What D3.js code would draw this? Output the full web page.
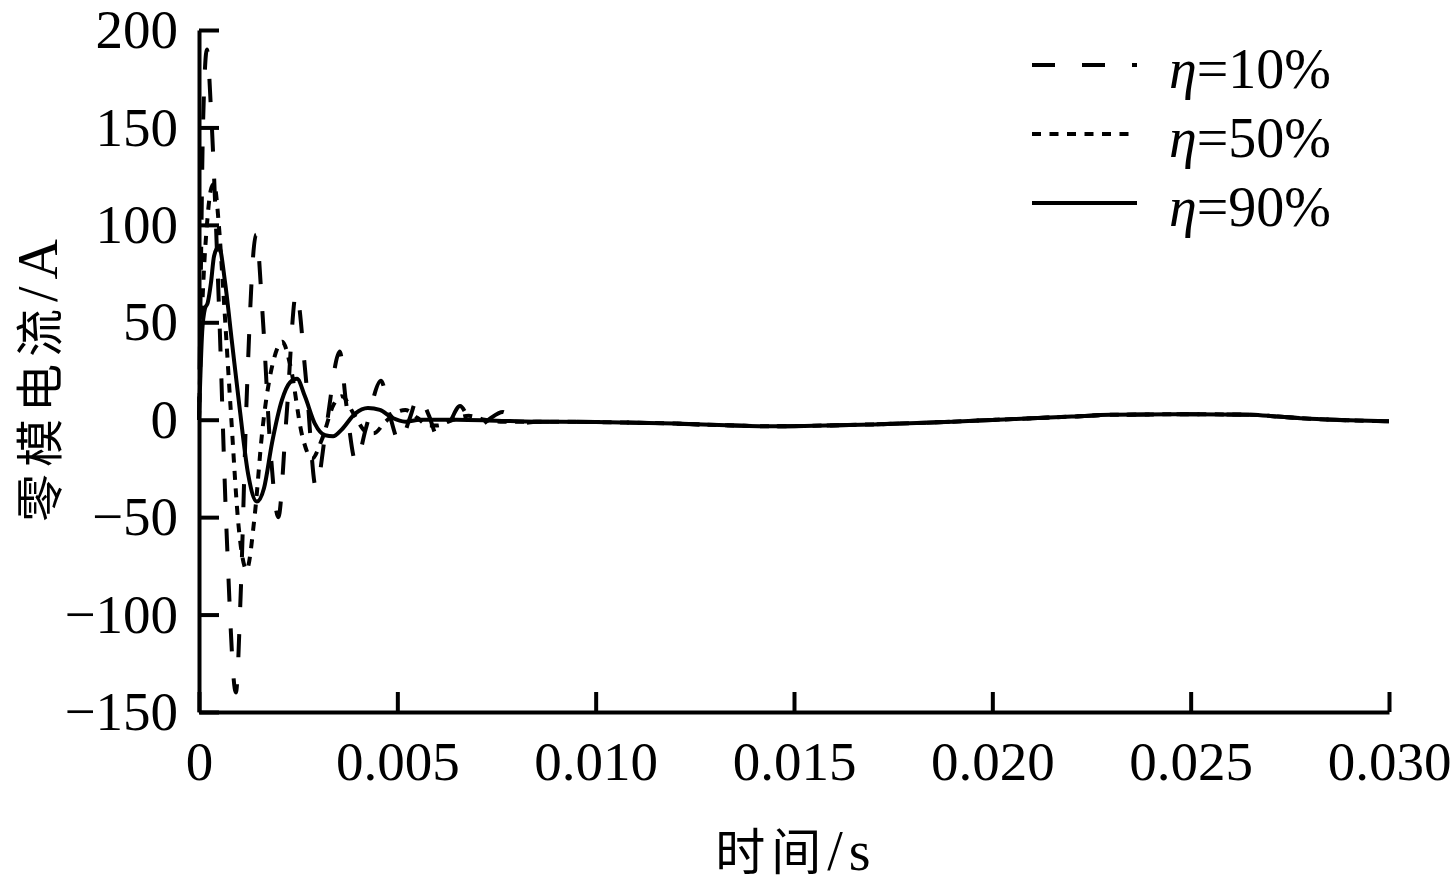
<!DOCTYPE html>
<meta charset="utf-8">
<script src="https://d3js.org/d3.v7.min.js"></script>
<style>
  body { margin: 0; background: #fff; }
  svg { filter: grayscale(100%); }
  text { font-family: "Liberation Serif", "Times New Roman", serif; fill: #000; }
  .cjk { font-family: "Noto Sans CJK SC", sans-serif; fill: #000; }
</style>
<div id="my_dataviz"></div>
<script>

// eta = 10% (long dashes)
var t10 = [0, 0.00005, 0.0001, 0.0002, 0.0003, 0.0005, 0.0007, 0.00093, 0.00105, 0.0012, 0.00144, 0.0016, 0.0018, 0.002,
           0.0022, 0.00245, 0.0027, 0.00295, 0.0032, 0.00355, 0.0037, 0.00396, 0.0042, 0.00459, 0.0048, 0.00507,
           0.0053, 0.00554, 0.0058, 0.006, 0.0063, 0.00658, 0.0068, 0.00708, 0.0073, 0.00766, 0.0079, 0.0081];
var v10 = [0, 80, 150, 190, 160, 60, -60, -140, -90, 10, 95, 55, -15, -50,
           0, 65, 20, -35, -5, 35, 10, -22, -5, 20, 3, -12,
           0, 12, 2, -8, -2, 7, 1, -3, 0, 4, 0, -2];

// eta = 50% (short dashes)
var t50 = [0, 0.00005, 0.00012, 0.0002, 0.0003, 0.00038, 0.0005, 0.0006, 0.0008, 0.001, 0.0012, 0.0014, 0.0016,
           0.0019, 0.0021, 0.0023, 0.0026, 0.00285, 0.0031, 0.0034, 0.0036, 0.0039, 0.0042, 0.0044, 0.0047,
           0.005, 0.0052, 0.0055, 0.0058, 0.006, 0.0064, 0.0068, 0.0072, 0.0076];
var v50 = [0, 40, 75, 100, 118, 121, 100, 70, 5, -55, -77, -50, -5,
           32, 40, 28, -8, -20, -10, 8, 12, 3, -6, -7, -1,
           4, 5, 1, -3, -3, 0, 2, 0, -1];

// eta = 90% (solid)
var t90 = [0, 0.00008, 0.00015, 0.00022, 0.0003, 0.00038, 0.0005, 0.00066, 0.00083, 0.00103, 0.00124, 0.00146, 0.00164,
           0.00184, 0.00209, 0.00229, 0.00247, 0.00267, 0.00292, 0.00318, 0.00338, 0.0036, 0.00393, 0.00426,
           0.00456, 0.00487, 0.0052, 0.00557, 0.0065, 0.0075];
var v90 = [0, 45, 57, 60, 70, 84, 89, 70, 40, 5, -28, -42, -35,
           -12, 10, 19, 21, 12, -2, -8, -8.5, -5, 3, 6,
           5, 1, -1, 0, 0, -0.5];

// common slow tail shared by all three cases
var tTail = [0.0085, 0.010, 0.012, 0.0135, 0.0145, 0.0155, 0.017, 0.019, 0.020, 0.021, 0.022, 0.023, 0.025,
             0.0265, 0.0272, 0.028, 0.029, 0.030];
var vTail = [-1, -1.2, -2, -3, -3.4, -3.1, -2.4, -1, -0.1, 0.7, 1.6, 2.5, 2.8,
             2.6, 1.6, 0.5, -0.3, -0.8];

var xTicks = [0, 0.005, 0.010, 0.015, 0.020, 0.025, 0.030];
var yTicks = [-150, -100, -50, 0, 50, 100, 150, 200];
var legendLabels = ["10%", "50%", "90%"];

// set the dimensions and margins of the graph
var margin = {top: 30, right: 67, bottom: 182, left: 199},
    width = 1456 - margin.left - margin.right,
    height = 894 - margin.top - margin.bottom;

var svg = d3.select("#my_dataviz")
  .append("svg")
    .attr("width", 1456)
    .attr("height", 894)
  .append("g")
    .attr("transform", "translate(" + margin.left + "," + margin.top + ")");

var x = d3.scaleLinear().domain([0, 0.030]).range([0, width]);
var y = d3.scaleLinear().domain([-150, 200]).range([height, 0]);

function fmtX(d) { return d === 0 ? "0" : d3.format(".3f")(d); }

// X axis
var xAxis = svg.append("g")
  .attr("transform", "translate(0," + height + ")")
  .call(d3.axisBottom(x).tickValues(xTicks).tickFormat(fmtX).tickSizeInner(-20).tickSizeOuter(0).tickPadding(29));

// Y axis
var yAxis = svg.append("g")
  .call(d3.axisLeft(y).tickValues(yTicks).tickFormat(d3.format("d")).tickSizeInner(-20).tickSizeOuter(0).tickPadding(21));

svg.selectAll(".domain, .tick line").attr("stroke", "#000").attr("stroke-width", 4);
svg.selectAll(".tick text").style("font-size", "55px").attr("font-family", null);

// series: tail appended to each early oscillation
function build(ts, vs) {
  var pts = ts.map(function(t, i) { return [t, vs[i]]; });
  return pts.concat(tTail.map(function(t, i) { return [t, vTail[i]]; }));
}

var series = [
  {data: build(t10, v10), dash: "23,27"},
  {data: build(t50, v50), dash: "9,8.5"},
  {data: build(t90, v90), dash: null}
];

var line = d3.line()
  .x(function(d) { return x(d[0]); })
  .y(function(d) { return y(d[1]); })
  .curve(d3.curveMonotoneX);

svg.selectAll(".series")
  .data(series)
  .enter()
  .append("path")
    .attr("class", "series")
    .attr("fill", "none")
    .attr("stroke", "#000")
    .attr("stroke-width", 4)
    .attr("stroke-dasharray", function(d) { return d.dash; })
    .attr("d", function(d) { return line(d.data); });

// legend
var legend = svg.selectAll(".legend")
  .data(series)
  .enter()
  .append("g")
    .attr("class", "legend")
    .attr("transform", function(d, i) { return "translate(833," + (35 + i * 69) + ")"; });

legend.append("line")
  .attr("x1", 0).attr("x2", 105)
  .attr("stroke", "#000").attr("stroke-width", 4)
  .attr("stroke-dasharray", function(d) { return d.dash; });

var lt = legend.append("text")
  .attr("x", 137).attr("y", 23)
  .style("font-size", "56px");
lt.append("tspan").style("font-style", "italic").text("η");
lt.append("tspan").text(function(d, i) { return "=" + legendLabels[i]; });

// axis titles
var xt = svg.append("text")
  .attr("x", 597).attr("y", height + 158)
  .attr("text-anchor", "middle")
  .style("font-size", "56px")
  .style("letter-spacing", "6px");
xt.append("tspan").attr("class", "cjk").style("font-size", "50px").text("时间");
xt.append("tspan").text("/s");

var yt = svg.append("text")
  .attr("transform", "translate(-142," + (377 - margin.top) + ") rotate(-90)")
  .attr("text-anchor", "middle")
  .style("font-size", "56px")
  .style("letter-spacing", "7px");
yt.append("tspan").attr("class", "cjk").style("font-size", "48px").text("零模电流");
yt.append("tspan").text("/A");

</script>
